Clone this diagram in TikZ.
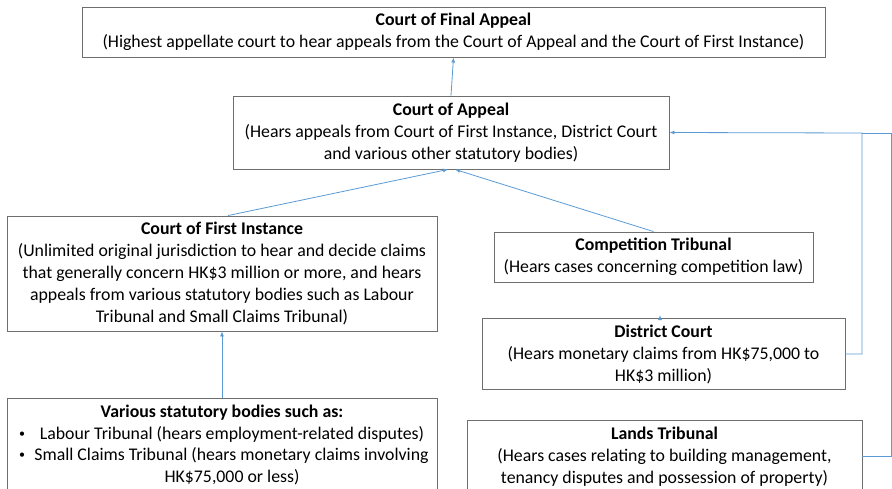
\documentclass[tikz,border=0pt]{standalone}
\usepackage{fontspec}
\setmainfont{Carlito}
\usetikzlibrary{arrows.meta,calc}
\definecolor{conncol}{RGB}{91,155,213}
\definecolor{boxcol}{RGB}{110,110,110}
\begin{document}
\begin{tikzpicture}[x=1pt,y=-1pt,
  box/.style={draw=boxcol,line width=0.9pt,rectangle,align=center,inner sep=0pt,
    font=\fontsize{17.8}{22}\selectfont},
  conn/.style={draw=conncol,line width=0.8pt,-{Latex[length=5pt,width=4pt]}},
  plain/.style={draw=conncol,line width=0.8pt},
  txt/.style={inner sep=0pt,font=\fontsize{17.8}{22}\selectfont}]
\clip (0,0) rectangle (892,489);
\fill[white] (0,0) rectangle (892,489);
\node[box,minimum width=743pt,minimum height=50pt] (cfa) at (453.5,32)
  {\textbf{Court of Final Appeal}\\(Highest appellate court to hear appeals from the Court of Appeal and the Court of First Instance)};
\node[box,minimum width=436pt,minimum height=73pt] (ca) at (451,132.5)
  {\textbf{Court of Appeal}\\(Hears appeals from Court of First Instance, District Court\\and various other statutory bodies)};
\node[box,minimum width=430pt,minimum height=115pt] (cfi) at (222,273.5)
  {\textbf{Court of First Instance}\\(Unlimited original jurisdiction to hear and decide claims\\that generally concern HK\$3 million or more, and hears\\appeals from various statutory bodies such as Labour\\Tribunal and Small Claims Tribunal)};
\node[box,minimum width=319pt,minimum height=50pt] (ct) at (653.5,257)
  {\textbf{Competition Tribunal}\\(Hears cases concerning competition law)};
\node[box,minimum width=363pt,minimum height=71pt] (dc) at (663.5,354)
  {\textbf{District Court}\\(Hears monetary claims from HK\$75,000 to\\HK\$3 million)};
\node[box,minimum width=395pt,minimum height=73pt] (lt) at (664.5,456.5)
  {\textbf{Lands Tribunal}\\(Hears cases relating to building management,\\tenancy disputes and possession of property)};
\node[box,minimum width=430pt,minimum height=94pt] (sb) at (222,445) {};
\node[txt] (sbt) at (222,413) {\textbf{Various statutory bodies such as:}};
\node[txt] (sb1) at (232,434.5) {Labour Tribunal (hears employment-related disputes)};
\node[txt] (sb2) at (231.5,456) {Small Claims Tribunal (hears monetary claims involving};
\node[txt] (sb3) at (232,477.5) {HK\$75,000 or less)};
\node[txt,font=\fontsize{12}{14}\selectfont] (bu1) at (22,434.5) {•};
\node[txt,font=\fontsize{12}{14}\selectfont] (bu2) at (22,456) {•};
% connectors
\draw[conn] (ca.north) -- (cfa.south);
\draw[conn] ([xshift=6pt]cfi.north) -- ([xshift=-3pt]ca.south);
\draw[conn] (ct.north) -- ([xshift=4pt]ca.south);
\draw[conn] (sb.north) -- (cfi.south);
\coordinate (dctip) at (660,315);
\draw[conn] ([xshift=-3.5pt]dc.north) -- (dctip);
\coordinate (j) at (862,133);
\draw[conn] (dc.east) -| (j) -- (ca.east);
\draw[plain] (lt.east) -- ++(28.5,0) |- (j);
\end{tikzpicture}
\end{document}
